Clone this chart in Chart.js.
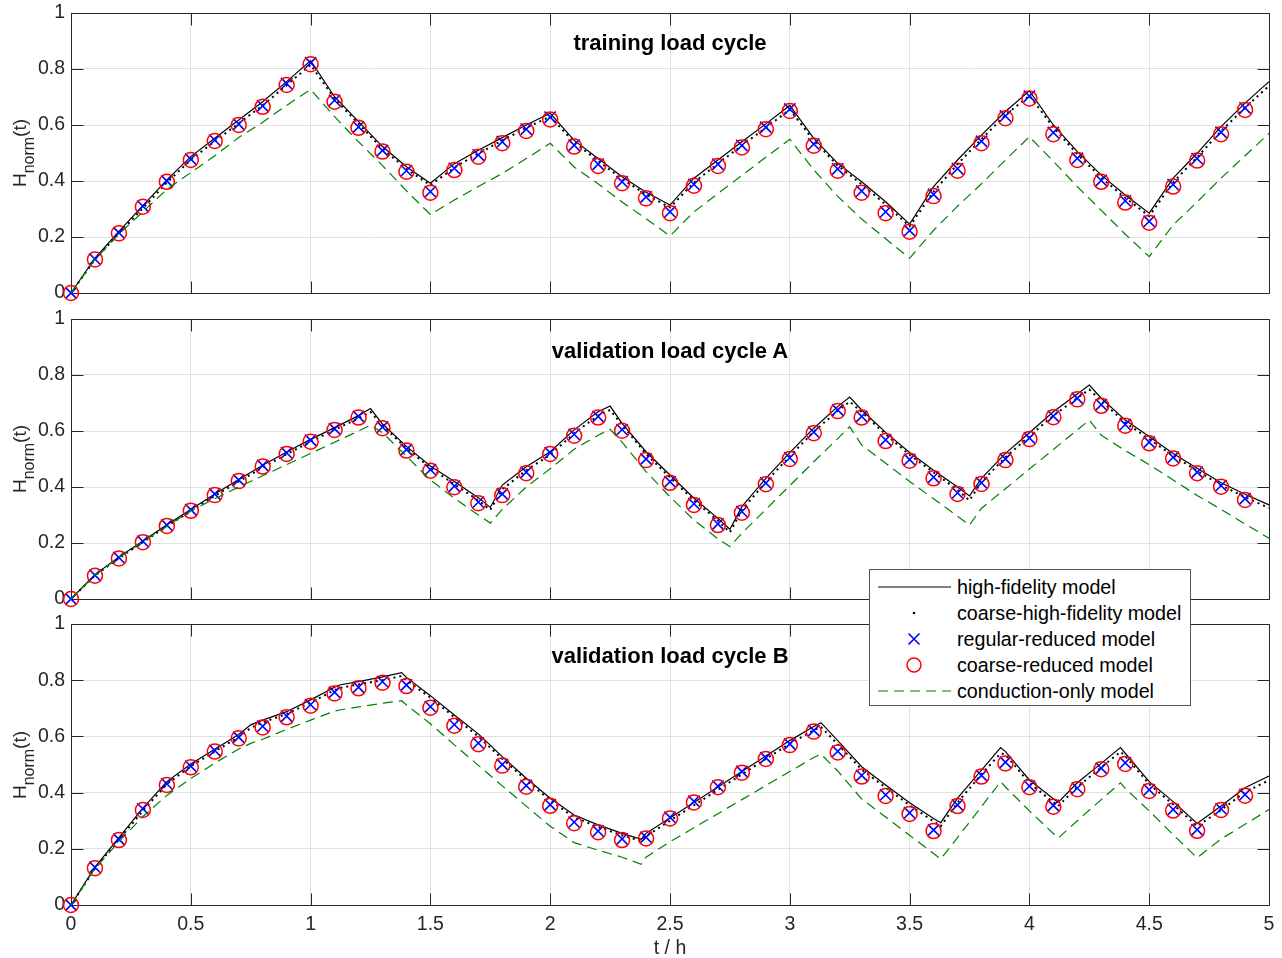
<!DOCTYPE html>
<html>
<head>
<meta charset="utf-8">
<title>H_norm over load cycles</title>
<script src="https://cdn.jsdelivr.net/npm/chart.js@4.4.1/dist/chart.umd.min.js"></script>
<style>
    body { margin: 0; background: #fff; font-family: "Liberation Sans", Arial, Helvetica, sans-serif; }
    #fig { position: relative; width: 1282px; height: 958px; overflow: hidden; }
    canvas { position: absolute; left: 0; }
    .ttl { position: absolute; left: 71px; width: 1198px; text-align: center; font-weight: bold;
           font-size: 22px; line-height: 22px; color: #000; }
    .ylab { position: absolute; left: 19px; font-size: 19px; line-height: 19px; color: #262626;
            white-space: nowrap; transform: translate(-50%, -50%) rotate(-90deg); }
    .ylab sub { font-size: 16px; vertical-align: -8px; line-height: 0; }
    #legend { position: absolute; left: 869px; top: 569px; width: 320px; height: 135px;
              border: 1px solid #555; background: #fff; z-index: 5; }
    #legend .row { position: absolute; left: 0; height: 26px; width: 320px; }
    #legend svg { position: absolute; left: 7px; top: 0; }
    #legend span { position: absolute; left: 87px; top: 0; font-size: 19.7px; line-height: 26px; color: #000; white-space: nowrap; }
</style>
</head>
<body>
<div id="fig">
    <canvas id="c-train" width="1282" height="310" style="top:0px"></canvas>
    <canvas id="c-valA" width="1282" height="310" style="top:306px"></canvas>
    <canvas id="c-valB" width="1282" height="347" style="top:611px"></canvas>

    <div class="ttl" style="top:32px">training load cycle</div>
    <div class="ttl" style="top:340px">validation load cycle A</div>
    <div class="ttl" style="top:645px">validation load cycle B</div>

    <div class="ylab" style="top:153px">H<sub>norm</sub>(t)</div>
    <div class="ylab" style="top:459px">H<sub>norm</sub>(t)</div>
    <div class="ylab" style="top:765px">H<sub>norm</sub>(t)</div>

    <div id="legend">
        <div class="row" style="top:4px">
            <svg width="80" height="26"><line x1="1" y1="13" x2="74" y2="13" stroke="#000" stroke-width="1.2"/></svg>
            <span>high-fidelity model</span>
        </div>
        <div class="row" style="top:30px">
            <svg width="80" height="26"><circle cx="37" cy="13" r="1.3" fill="#000"/></svg>
            <span>coarse-high-fidelity model</span>
        </div>
        <div class="row" style="top:56px">
            <svg width="80" height="26"><path d="M31.5 7.5 L42.5 18.5 M42.5 7.5 L31.5 18.5" stroke="#0000ff" stroke-width="1.6"/></svg>
            <span>regular-reduced model</span>
        </div>
        <div class="row" style="top:82px">
            <svg width="80" height="26"><circle cx="37" cy="13" r="7" fill="none" stroke="#ff0000" stroke-width="1.5"/></svg>
            <span>coarse-reduced model</span>
        </div>
        <div class="row" style="top:108px">
            <svg width="80" height="26"><line x1="1" y1="13" x2="74" y2="13" stroke="#008000" stroke-width="1.2" stroke-dasharray="10 6"/></svg>
            <span>conduction-only model</span>
        </div>
    </div>
</div>

<script>
// marker times (h), shared by all three panels
var tMarks = [0, 0.1, 0.2, 0.3, 0.4, 0.5, 0.6, 0.7, 0.8, 0.9,
    1.0, 1.1, 1.2, 1.3, 1.4, 1.5, 1.6, 1.7, 1.8, 1.9,
    2.0, 2.1, 2.2, 2.3, 2.4, 2.5, 2.6, 2.7, 2.8, 2.9,
    3.0, 3.1, 3.2, 3.3, 3.4, 3.5, 3.6, 3.7, 3.8, 3.9,
    4.0, 4.1, 4.2, 4.3, 4.4, 4.5, 4.6, 4.7, 4.8, 4.9];

var xTicks = [0, 0.5, 1, 1.5, 2, 2.5, 3, 3.5, 4, 4.5, 5];
var yTicks = [0, 0.2, 0.4, 0.6, 0.8, 1];

// ---- training load cycle
var tLineTrain = [0, 0.1, 0.2, 0.3, 0.4, 0.5, 0.6, 0.7, 0.8, 0.9, 1.0,
    1.1, 1.2, 1.3, 1.4, 1.5, 1.6, 1.7, 1.8, 1.9, 2.0,
    2.1, 2.2, 2.3, 2.4, 2.5, 2.6, 2.7, 2.8, 2.9, 3.0,
    3.1, 3.2, 3.3, 3.4, 3.5, 3.6, 3.7, 3.8, 3.9, 4.0,
    4.1, 4.2, 4.3, 4.4, 4.5, 4.6, 4.7, 4.8, 4.9, 5.0];
var hfTrain = [0, 0.125, 0.22, 0.312, 0.404, 0.487, 0.553, 0.618, 0.683, 0.755, 0.83,
    0.701, 0.612, 0.523, 0.451, 0.392, 0.462, 0.51, 0.555, 0.60, 0.642,
    0.545, 0.48, 0.415, 0.36, 0.314, 0.41, 0.475, 0.54, 0.604, 0.67,
    0.552, 0.463, 0.397, 0.326, 0.246, 0.38, 0.475, 0.564, 0.648, 0.722,
    0.60, 0.505, 0.421, 0.35, 0.285, 0.41, 0.499, 0.594, 0.678, 0.755];
var chfTrain = [0, 0.12, 0.213, 0.303, 0.394, 0.476, 0.542, 0.606, 0.67, 0.742, 0.815,
    0.694, 0.604, 0.515, 0.443, 0.385, 0.448, 0.498, 0.545, 0.59, 0.63,
    0.538, 0.472, 0.407, 0.352, 0.305, 0.395, 0.462, 0.527, 0.59, 0.655,
    0.545, 0.455, 0.388, 0.316, 0.238, 0.362, 0.46, 0.55, 0.635, 0.705,
    0.592, 0.496, 0.412, 0.34, 0.275, 0.395, 0.485, 0.578, 0.662, 0.74];
var condTrain = [0, 0.12, 0.21, 0.29, 0.37, 0.43, 0.49, 0.555, 0.61, 0.67, 0.727,
    0.63, 0.54, 0.455, 0.365, 0.28, 0.332, 0.38, 0.427, 0.48, 0.535,
    0.45, 0.39, 0.325, 0.265, 0.204, 0.29, 0.355, 0.42, 0.485, 0.549,
    0.44, 0.345, 0.264, 0.194, 0.124, 0.224, 0.31, 0.39, 0.475, 0.558,
    0.47, 0.38, 0.295, 0.21, 0.13, 0.243, 0.325, 0.41, 0.49, 0.57];
var rrTrain = [0, 0.121, 0.215, 0.31, 0.4, 0.478, 0.546, 0.603, 0.668, 0.748,
    0.822, 0.688, 0.593, 0.509, 0.437, 0.362, 0.445, 0.493, 0.54, 0.585,
    0.628, 0.528, 0.46, 0.397, 0.343, 0.29, 0.388, 0.46, 0.527, 0.592,
    0.657, 0.532, 0.443, 0.364, 0.29, 0.223, 0.352, 0.444, 0.542, 0.632,
    0.703, 0.573, 0.481, 0.402, 0.329, 0.256, 0.387, 0.48, 0.574, 0.661];
var crTrain = [0, 0.12, 0.213, 0.308, 0.397, 0.475, 0.543, 0.6, 0.665, 0.743,
    0.817, 0.683, 0.59, 0.505, 0.433, 0.358, 0.439, 0.487, 0.535, 0.579,
    0.62, 0.523, 0.454, 0.392, 0.338, 0.285, 0.383, 0.454, 0.52, 0.585,
    0.65, 0.526, 0.437, 0.358, 0.285, 0.219, 0.346, 0.437, 0.535, 0.624,
    0.695, 0.567, 0.475, 0.397, 0.323, 0.251, 0.38, 0.473, 0.567, 0.654];

// ---- validation load cycle A
var tLineA = [0, 0.1, 0.2, 0.3, 0.4, 0.5, 0.6, 0.7, 0.8, 0.9, 1.0, 1.1, 1.2, 1.25,
    1.3, 1.4, 1.5, 1.6, 1.7, 1.75,
    1.8, 1.9, 2.0, 2.1, 2.2, 2.25,
    2.3, 2.4, 2.5, 2.6, 2.7, 2.75,
    2.8, 2.9, 3.0, 3.1, 3.2, 3.25,
    3.3, 3.4, 3.5, 3.6, 3.7, 3.75,
    3.8, 3.9, 4.0, 4.1, 4.2, 4.25,
    4.3, 4.4, 4.5, 4.6, 4.7, 4.8, 4.9, 5.0];
var hfA = [0, 0.087, 0.15, 0.207, 0.265, 0.32, 0.375, 0.427, 0.478, 0.525, 0.57, 0.612, 0.655, 0.68,
    0.625, 0.545, 0.475, 0.42, 0.362, 0.327,
    0.407, 0.472, 0.526, 0.604, 0.669, 0.689,
    0.627, 0.526, 0.443, 0.36, 0.288, 0.249,
    0.33, 0.431, 0.523, 0.61, 0.687, 0.721,
    0.675, 0.595, 0.523, 0.46, 0.40, 0.368,
    0.431, 0.52, 0.594, 0.669, 0.732, 0.764,
    0.717, 0.639, 0.58, 0.52, 0.467, 0.415, 0.374, 0.336];
var chfA = [0, 0.084, 0.146, 0.203, 0.26, 0.314, 0.368, 0.42, 0.47, 0.517, 0.562, 0.605, 0.645, 0.668,
    0.62, 0.538, 0.468, 0.41, 0.352, 0.318,
    0.392, 0.46, 0.515, 0.592, 0.655, 0.675,
    0.622, 0.518, 0.434, 0.352, 0.28, 0.238,
    0.318, 0.418, 0.51, 0.598, 0.672, 0.705,
    0.668, 0.588, 0.515, 0.452, 0.39, 0.352,
    0.418, 0.506, 0.582, 0.655, 0.718, 0.748,
    0.708, 0.63, 0.571, 0.512, 0.458, 0.406, 0.364, 0.325];
var condA = [0, 0.085, 0.148, 0.205, 0.26, 0.315, 0.358, 0.40, 0.44, 0.48, 0.52, 0.56, 0.60, 0.621,
    0.594, 0.51, 0.425, 0.36, 0.30, 0.271,
    0.32, 0.40, 0.465, 0.535, 0.585, 0.606,
    0.56, 0.455, 0.365, 0.282, 0.215, 0.187,
    0.235, 0.32, 0.405, 0.49, 0.573, 0.615,
    0.55, 0.485, 0.42, 0.358, 0.296, 0.264,
    0.324, 0.394, 0.464, 0.534, 0.604, 0.639,
    0.585, 0.53, 0.48, 0.425, 0.37, 0.32, 0.268, 0.217];
var rrA = [0, 0.085, 0.148, 0.206, 0.264, 0.319, 0.375, 0.425, 0.477, 0.522,
    0.567, 0.608, 0.652, 0.614, 0.534, 0.462, 0.403, 0.346, 0.375, 0.453,
    0.522, 0.588, 0.652, 0.605, 0.5, 0.419, 0.34, 0.268, 0.312, 0.414,
    0.504, 0.596, 0.675, 0.652, 0.568, 0.498, 0.435, 0.379, 0.415, 0.5,
    0.575, 0.653, 0.717, 0.694, 0.623, 0.56, 0.506, 0.453, 0.405, 0.358];
var crA = [0, 0.083, 0.145, 0.203, 0.261, 0.315, 0.371, 0.421, 0.473, 0.518,
    0.562, 0.604, 0.648, 0.61, 0.53, 0.458, 0.399, 0.342, 0.371, 0.449,
    0.518, 0.583, 0.648, 0.601, 0.496, 0.415, 0.336, 0.264, 0.308, 0.41,
    0.5, 0.592, 0.671, 0.648, 0.564, 0.494, 0.431, 0.375, 0.411, 0.496,
    0.571, 0.649, 0.713, 0.69, 0.619, 0.556, 0.502, 0.449, 0.401, 0.354];

// ---- validation load cycle B
var tLineB = [0, 0.1, 0.2, 0.3, 0.4, 0.5, 0.6, 0.7, 0.75, 0.8, 0.9, 1.0, 1.1, 1.12, 1.2, 1.3, 1.38,
    1.4, 1.5, 1.6, 1.7, 1.8, 1.9, 2.0, 2.1, 2.2, 2.3, 2.38,
    2.4, 2.5, 2.6, 2.7, 2.8, 2.9, 3.0, 3.1, 3.13,
    3.2, 3.3, 3.4, 3.5, 3.6, 3.63,
    3.7, 3.8, 3.88,
    3.9, 4.0, 4.12,
    4.2, 4.3, 4.38,
    4.4, 4.5, 4.6, 4.7,
    4.8, 4.9, 5.0];
var hfB = [0, 0.135, 0.24, 0.345, 0.439, 0.502, 0.554, 0.607, 0.641, 0.658, 0.688, 0.73, 0.775, 0.783, 0.795, 0.812, 0.827,
    0.81, 0.745, 0.676, 0.609, 0.528, 0.451, 0.38, 0.32, 0.285, 0.255, 0.234,
    0.255, 0.31, 0.365, 0.42, 0.475, 0.53, 0.585, 0.635, 0.649,
    0.585, 0.492, 0.427, 0.364, 0.308, 0.293,
    0.38, 0.48, 0.56,
    0.546, 0.445, 0.365,
    0.435, 0.504, 0.56,
    0.54, 0.439, 0.368, 0.29,
    0.352, 0.417, 0.459];
var chfB = [0, 0.13, 0.233, 0.335, 0.43, 0.494, 0.546, 0.598, 0.63, 0.65, 0.68, 0.72, 0.765, 0.772, 0.785, 0.8, 0.815,
    0.8, 0.738, 0.668, 0.6, 0.52, 0.444, 0.372, 0.312, 0.278, 0.248, 0.228,
    0.245, 0.3, 0.355, 0.41, 0.465, 0.52, 0.574, 0.622, 0.634,
    0.572, 0.482, 0.418, 0.355, 0.298, 0.28,
    0.365, 0.465, 0.54,
    0.535, 0.434, 0.352,
    0.42, 0.49, 0.545,
    0.53, 0.43, 0.358, 0.28,
    0.338, 0.402, 0.444];
var condB = [0, 0.13, 0.225, 0.315, 0.39, 0.45, 0.505, 0.555, 0.575, 0.59, 0.625, 0.658, 0.69, 0.694, 0.705, 0.718, 0.727,
    0.712, 0.645, 0.57, 0.497, 0.424, 0.352, 0.28, 0.222, 0.195, 0.17, 0.145,
    0.17, 0.225, 0.275, 0.325, 0.375, 0.425, 0.475, 0.525, 0.537,
    0.477, 0.377, 0.313, 0.248, 0.183, 0.164,
    0.24, 0.35, 0.439,
    0.42, 0.335, 0.238,
    0.30, 0.375, 0.435,
    0.415, 0.335, 0.25, 0.168,
    0.235, 0.287, 0.34];
var rrB = [0, 0.134, 0.234, 0.342, 0.431, 0.494, 0.55, 0.597, 0.636, 0.672,
    0.713, 0.757, 0.775, 0.795, 0.783, 0.706, 0.642, 0.576, 0.5, 0.425,
    0.357, 0.295, 0.263, 0.235, 0.241, 0.312, 0.369, 0.423, 0.475, 0.524,
    0.573, 0.621, 0.547, 0.461, 0.392, 0.328, 0.267, 0.356, 0.461, 0.508,
    0.423, 0.354, 0.416, 0.487, 0.506, 0.41, 0.34, 0.268, 0.342, 0.393];
var crB = [0, 0.131, 0.231, 0.338, 0.427, 0.49, 0.546, 0.593, 0.632, 0.668,
    0.709, 0.753, 0.771, 0.791, 0.779, 0.702, 0.638, 0.572, 0.496, 0.421,
    0.353, 0.291, 0.259, 0.231, 0.237, 0.308, 0.365, 0.419, 0.471, 0.52,
    0.569, 0.617, 0.543, 0.457, 0.388, 0.324, 0.263, 0.352, 0.457, 0.504,
    0.419, 0.35, 0.412, 0.483, 0.502, 0.406, 0.336, 0.264, 0.338, 0.389];

var AXIS_COLOR = '#262626';
var GRID_COLOR = '#e0e0e0';
var TICK_LEN = 12;

Chart.defaults.font.family = '"Liberation Sans", Arial, Helvetica, sans-serif';
Chart.defaults.color = AXIS_COLOR;

function pts(xs, ys) {
    return xs.map(function (x, i) {
        return {x: x, y: ys[i]};
    });
}

function fmt(v) {
    return String(Math.round(v * 10) / 10);
}

// box round the axes plus inward ticks on all four sides, like the original
var boxPlugin = {
    id: 'matlabBox',
    beforeDatasetsDraw: function (chart) {
        var ctx = chart.ctx, a = chart.chartArea;
        var xs = chart.scales.x, ys = chart.scales.y;
        var l = Math.round(a.left) + 0.5, r = Math.round(a.right) + 0.5;
        var t = Math.round(a.top) + 0.5, b = Math.round(a.bottom) + 0.5;
        ctx.save();
        ctx.strokeStyle = AXIS_COLOR;
        ctx.lineWidth = 1;
        ctx.beginPath();
        xs.ticks.forEach(function (tk) {
            var px = Math.round(xs.getPixelForValue(tk.value)) + 0.5;
            ctx.moveTo(px, t);
            ctx.lineTo(px, t + TICK_LEN);
            ctx.moveTo(px, b);
            ctx.lineTo(px, b - TICK_LEN);
        });
        ys.ticks.forEach(function (tk) {
            var py = Math.round(ys.getPixelForValue(tk.value)) + 0.5;
            ctx.moveTo(l, py);
            ctx.lineTo(l + TICK_LEN, py);
            ctx.moveTo(r, py);
            ctx.lineTo(r - TICK_LEN, py);
        });
        ctx.moveTo(l, t);
        ctx.lineTo(r, t);
        ctx.lineTo(r, b);
        ctx.lineTo(l, b);
        ctx.closePath();
        ctx.stroke();
        ctx.restore();
    }
};

function makePanel(id, tLine, hf, chf, cond, rr, cr, isBottom) {
    return new Chart(document.getElementById(id), {
        type: 'scatter',
        data: {
            datasets: [{
                label: 'high-fidelity model',
                data: pts(tLine, hf),
                showLine: true,
                borderColor: '#000',
                borderWidth: 1.2,
                pointRadius: 0,
                order: 5
            }, {
                label: 'coarse-high-fidelity model',
                data: pts(tLine, chf),
                showLine: true,
                borderColor: '#000',
                borderWidth: 2,
                borderDash: [2, 4],
                borderCapStyle: 'butt',
                pointRadius: 0,
                order: 4
            }, {
                label: 'regular-reduced model',
                data: pts(tMarks, rr),
                pointStyle: 'crossRot',
                pointRadius: 8,
                pointBorderWidth: 1.6,
                pointBorderColor: '#0000ff',
                pointBackgroundColor: '#0000ff',
                order: 3
            }, {
                label: 'coarse-reduced model',
                data: pts(tMarks, cr),
                pointStyle: 'circle',
                pointRadius: 7.5,
                pointBorderWidth: 1.5,
                pointBorderColor: '#ff0000',
                pointBackgroundColor: 'rgba(0,0,0,0)',
                order: 2
            }, {
                label: 'conduction-only model',
                data: pts(tLine, cond),
                showLine: true,
                borderColor: '#008000',
                borderWidth: 1.2,
                borderDash: [10, 6],
                pointRadius: 0,
                order: 1
            }]
        },
        options: {
            responsive: false,
            animation: false,
            events: [],
            clip: false,
            layout: {padding: {top: 13, right: 13, bottom: 0, left: 0}},
            plugins: {
                legend: {display: false},
                tooltip: {enabled: false}
            },
            scales: {
                x: {
                    type: 'linear',
                    min: 0,
                    max: 5,
                    afterBuildTicks: function (s) {
                        s.ticks = xTicks.map(function (v) { return {value: v}; });
                    },
                    grid: {color: GRID_COLOR, drawTicks: false},
                    border: {display: false},
                    ticks: {
                        display: isBottom,
                        padding: 8,
                        color: AXIS_COLOR,
                        font: {size: 19.5},
                        maxRotation: 0,
                        callback: fmt
                    },
                    title: {
                        display: isBottom,
                        text: 't / h',
                        color: AXIS_COLOR,
                        font: {size: 19.5, lineHeight: 1},
                        padding: {top: 0, bottom: 0}
                    },
                    afterFit: function (s) {
                        s.height = isBottom ? 53 : 17;
                        s.paddingLeft = 0;
                        s.paddingRight = 0;
                    }
                },
                y: {
                    type: 'linear',
                    min: 0,
                    max: 1,
                    afterBuildTicks: function (s) {
                        s.ticks = yTicks.map(function (v) { return {value: v}; });
                    },
                    grid: {color: GRID_COLOR, drawTicks: false},
                    border: {display: false},
                    ticks: {
                        padding: 6,
                        color: AXIS_COLOR,
                        font: {size: 19.5},
                        callback: fmt
                    },
                    afterFit: function (s) {
                        s.width = 71;
                        s.paddingTop = 0;
                        s.paddingBottom = 0;
                    }
                }
            }
        },
        plugins: [boxPlugin]
    });
}

makePanel('c-train', tLineTrain, hfTrain, chfTrain, condTrain, rrTrain, crTrain, false);
makePanel('c-valA', tLineA, hfA, chfA, condA, rrA, crA, false);
makePanel('c-valB', tLineB, hfB, chfB, condB, rrB, crB, true);
</script>
</body>
</html>
